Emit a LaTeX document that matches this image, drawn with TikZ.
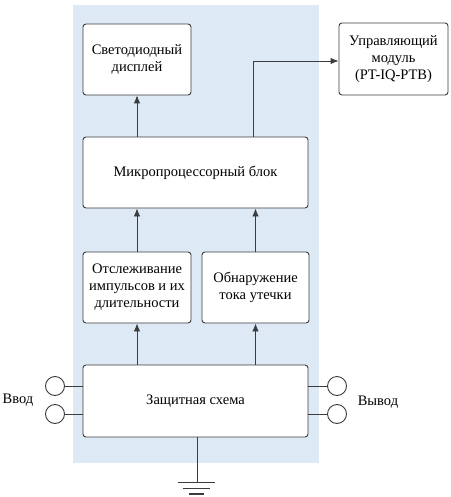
\documentclass[tikz,border=0pt]{standalone}
\usepackage{fontspec}
\setmainfont{Liberation Serif}
\usetikzlibrary{arrows.meta,positioning,calc}
\definecolor{panelblue}{RGB}{221,233,245}
\definecolor{linegray}{RGB}{60,60,60}
\tikzset{every picture/.style={line width=0.9pt}}

\begin{document}
\begin{tikzpicture}[x=1pt,y=-1pt,
    block/.style={draw=linegray, fill=white, rounded corners=3pt, align=center,
                  font=\fontsize{14.5}{17}\selectfont, inner sep=2pt},
    term/.style={draw=linegray, fill=white, circle, minimum size=19pt, inner sep=0pt},
    link/.style={draw=linegray, -{Latex[length=8pt,width=6.5pt]}},
    wire/.style={draw=linegray}]
    \useasboundingbox (0,0) rectangle (450,497);

    % синяя подложка
    \fill[panelblue] (73,5) rectangle (319,463);

    % блоки
    \node[block, minimum width=108pt, minimum height=71pt] (led) at (137,59.5) {Светодиодный\\дисплей};
    \node[block, minimum width=109pt, minimum height=72pt] (module) at (393.5,59) {Управляющий\\модуль\\(PT-IQ-PTB)};
    \node[block, minimum width=225pt, minimum height=71pt] (cpu) at (195.5,172.5) {Микропроцессорный блок};
    \node[block, minimum width=108pt, minimum height=71pt] (pulse) at (137,287.5) {Отслеживание\\импульсов и их\\длительности};
    \node[block, minimum width=107pt, minimum height=71pt] (leak) at (255.5,287.5) {Обнаружение\\тока утечки};
    \node[block, minimum width=225pt, minimum height=72pt] (prot) at (195.5,401) {Защитная схема};

    % клеммы
    \node[term] (in1) at (55,386) {};
    \node[term] (in2) at (55,414) {};
    \node[term] (out1) at (337,386) {};
    \node[term] (out2) at (337,414) {};
    \node[font=\fontsize{14.5}{17}\selectfont] (inlabel) at (18,400) {Ввод};
    \node[font=\fontsize{14.5}{17}\selectfont] (outlabel) at (378,402) {Вывод};
    \draw[wire] (in1) -- (in1 -| prot.west);
    \draw[wire] (in2) -- (in2 -| prot.west);
    \draw[wire] (out1) -- (out1 -| prot.east);
    \draw[wire] (out2) -- (out2 -| prot.east);

    % связи
    \draw[link] (prot.north -| pulse) -- (pulse.south);
    \draw[link] (prot.north -| leak) -- (leak.south);
    \draw[link] (pulse.north) -- (pulse.north |- cpu.south);
    \draw[link] (leak.north) -- (leak.north |- cpu.south);
    \draw[link] (cpu.north -| led) -- (led.south);
    \coordinate (bend) at (253,61);
    \draw[link] (cpu.north -| bend) -- (bend) -- (bend -| module.west);

    % заземление
    \coordinate (gnd) at (197,482);
    \draw[wire] (prot.south -| gnd) -- (gnd);
    \draw[wire] ($(gnd)+(-19,0)$) -- ($(gnd)+(18,0)$);
    \draw[wire] ($(gnd)+(-14,6)$) -- ($(gnd)+(13,6)$);
    \draw[linegray, line width=2pt] ($(gnd)+(-8,11.5)$) -- ($(gnd)+(7,11.5)$);
\end{tikzpicture}
\end{document}
